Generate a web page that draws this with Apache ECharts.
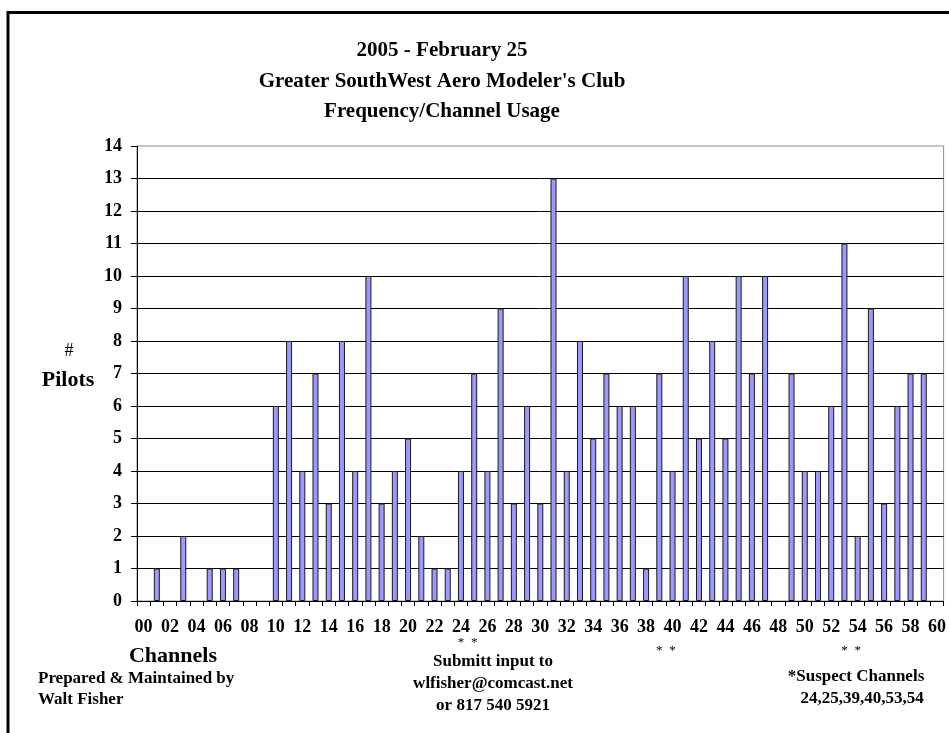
<!DOCTYPE html>
<html>
<head>
<meta charset="utf-8">
<script src="https://cdn.jsdelivr.net/npm/echarts@6/dist/echarts.min.js"></script>
<style>
html,body{margin:0;padding:0;background:#fff;}
#chart{width:949px;height:733px;}
</style>
</head>
<body>
<div id="chart"></div>
<script>
var channels = ['00','01','02','03','04','05','06','07','08','09',
  '10','11','12','13','14','15','16','17','18','19',
  '20','21','22','23','24','25','26','27','28','29',
  '30','31','32','33','34','35','36','37','38','39',
  '40','41','42','43','44','45','46','47','48','49',
  '50','51','52','53','54','55','56','57','58','59','60'];
var pilots = [0,1,0,2,0,1,1,1,0,0,
  6,8,4,7,3,8,4,10,3,4,
  5,2,1,1,4,7,4,9,3,6,
  3,13,4,8,5,7,6,6,1,7,
  4,10,5,8,5,10,7,10,0,7,
  4,4,6,11,2,9,3,6,7,7,0];
var suspectChannels = ['24','25','39','40','53','54'];
var titleLines = ['2005 - February 25', "Greater SouthWest Aero Modeler's Club", 'Frequency/Channel Usage'];

var FONT = '"Liberation Serif", "Times New Roman", serif';
var chart = echarts.init(document.getElementById('chart'), null, {renderer: 'canvas'});

function txt(x, y, text, size, opts) {
  opts = opts || {};
  return {
    type: 'text', x: x, y: y, z: 10,
    style: {
      text: text, fontFamily: FONT, fontSize: size,
      fontWeight: opts.weight || 'bold', fill: '#000',
      align: opts.align || 'center', verticalAlign: 'middle'
    }
  };
}

var graphics = [
  {type: 'rect', shape: {x: 8, y: 12.5, width: 1000, height: 800},
   style: {fill: 'none', stroke: '#000', lineWidth: 3}, z: 5},
  txt(442, 51, titleLines[0], 21),
  txt(442, 82, titleLines[1], 21),
  txt(442, 112, titleLines[2], 21),
  txt(69, 351, '#', 18, {weight: 'normal'}),
  txt(68, 380, 'Pilots', 22),
  txt(173, 656, 'Channels', 22),
  txt(38, 679, 'Prepared & Maintained by', 17, {align: 'left'}),
  txt(38, 700, 'Walt Fisher', 17, {align: 'left'}),
  txt(493, 662, 'Submitt input to', 17),
  txt(493, 684, 'wlfisher@comcast.net', 17),
  txt(493, 706, 'or 817 540 5921', 17),
  txt(856, 677, '*Suspect Channels', 17),
  txt(862, 699, suspectChannels.join(','), 17)
];

// zero counts draw no bar (as in the original spreadsheet chart)
var barData = pilots.map(function (v) { return v === 0 ? '-' : v; });

var option = {
  backgroundColor: '#fff',
  animation: false,
  grid: {left: 137, right: 5, top: 146, bottom: 132, show: true,
         borderColor: '#8c8c8c', borderWidth: 1, backgroundColor: 'transparent'},
  xAxis: {
    type: 'category', data: channels, boundaryGap: true,
    axisLine: {lineStyle: {color: '#000', width: 1}},
    axisTick: {show: true, interval: 0, length: 5, inside: false, lineStyle: {color: '#000'}},
    axisLabel: {interval: 1, margin: 17, fontFamily: FONT, fontSize: 18,
                fontWeight: 'bold', color: '#000'},
    splitLine: {show: false}
  },
  yAxis: {
    type: 'value', min: 0, max: 14, interval: 1,
    axisLine: {show: true, lineStyle: {color: '#000', width: 1}},
    axisTick: {show: true, length: 6, inside: false, lineStyle: {color: '#000'}},
    axisLabel: {margin: 15, fontFamily: FONT, fontSize: 18, fontWeight: 'bold', color: '#000'},
    splitLine: {show: true, showMaxLine: false, lineStyle: {color: '#000', width: 1}}
  },
  series: [{
    type: 'bar', data: barData, barWidth: 6,
    itemStyle: {color: '#9999ff', borderColor: '#1a1a1a', borderWidth: 1}
  }],
  graphic: graphics
};
chart.setOption(option);

// asterisks marking the suspect channels, placed on the channel axis
var starY = {'24': 643, '25': 643};
suspectChannels.forEach(function (c) {
  var px = chart.convertToPixel({xAxisIndex: 0}, c);
  graphics.push(txt(px, starY[c] || 651, '*', 13, {weight: 'normal'}));
});
chart.setOption({graphic: graphics});
</script>
</body>
</html>
